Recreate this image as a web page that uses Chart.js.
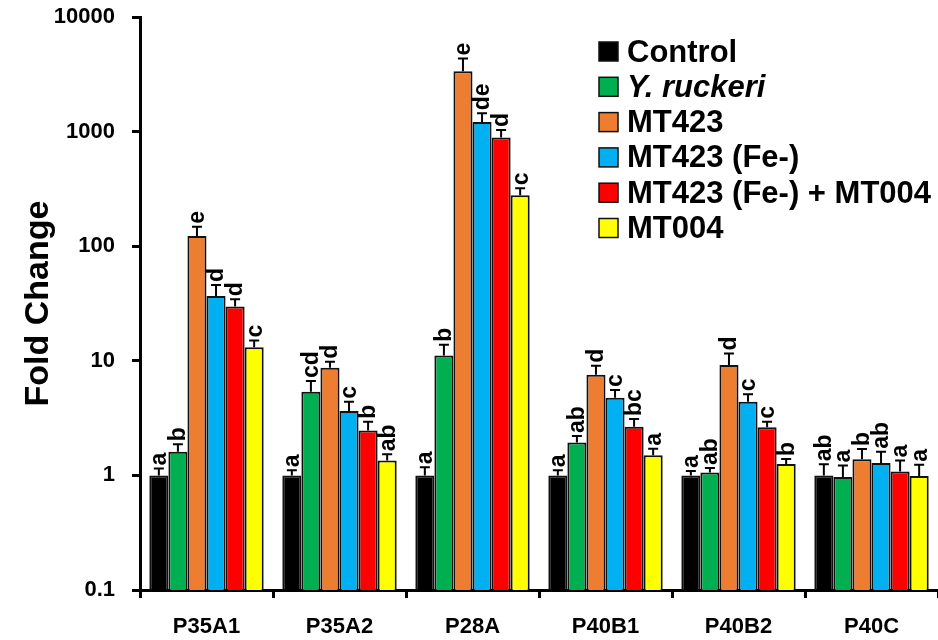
<!DOCTYPE html>
<html>
<head>
<meta charset="utf-8">
<script src="https://cdn.jsdelivr.net/npm/chart.js"></script>
<style>
  html, body { margin: 0; padding: 0; background: #fff; }
  #wrap { width: 938px; height: 640px; }
</style>
</head>
<body>
<div id="wrap"><canvas id="foldChart" width="938" height="640"></canvas></div>
<script>
// genes on the x axis
const genes = ['P35A1', 'P35A2', 'P28A', 'P40B1', 'P40B2', 'P40C'];
const yTicks = [0.1, 1, 10, 100, 1000, 10000];

// fold change per treatment
const control   = [1, 1, 1, 1, 1, 1];
const yRuckeri  = [1.61, 5.37, 11.1, 1.94, 1.06, 0.97];
const mt423     = [123, 8.7, 3370, 7.56, 9.19, 1.38];
const mt423Fe   = [36.8, 3.65, 1210, 4.76, 4.40, 1.28];
const mt423FeMt = [29.7, 2.47, 887, 2.66, 2.63, 1.08];
const mt004     = [13.1, 1.35, 279, 1.50, 1.26, 0.99];

// upper error (SD)
const controlErr   = [0.15, 0.11, 0.18, 0.11, 0.09, 0.25];
const yRuckeriErr  = [0.26, 1.3, 2.7, 0.27, 0.10, 0.25];
const mt423Err     = [25, 1.1, 980, 1.5, 2.4, 0.32];
const mt423FeErr   = [9, 0.75, 234, 0.8, 0.7, 0.33];
const mt423FeMtErr = [4.7, 0.47, 148, 0.45, 0.31, 0.27];
const mt004Err     = [1.9, 0.18, 41, 0.21, 0.13, 0.25];

// significance letters
const controlSig   = ['a', 'a', 'a', 'a', 'a', 'ab'];
const yRuckeriSig  = ['b', 'cd', 'b', 'ab', 'ab', 'a'];
const mt423Sig     = ['e', 'd', 'e', 'd', 'd', 'b'];
const mt423FeSig   = ['d', 'c', 'de', 'c', 'c', 'ab'];
const mt423FeMtSig = ['d', 'b', 'd', 'bc', 'c', 'a'];
const mt004Sig     = ['c', 'ab', 'c', 'a', 'b', 'a'];

const FONT = '"Liberation Sans", Arial, sans-serif';

function makeSet(label, data, err, sig, color, italic) {
    return {
        label: label,
        data: data,
        err: err,
        sig: sig,
        italic: italic || false,
        backgroundColor: color,
        borderColor: '#111',
        borderWidth: 2,
        categoryPercentage: 0.86,
        barPercentage: 1.0
    };
}

// error bars (upper half) plus letters above them
const errorBars = {
    id: 'errorBars',
    afterDatasetsDraw(chart) {
        const ctx = chart.ctx;
        const y = chart.scales.y;
        ctx.save();
        chart.data.datasets.forEach((ds, i) => {
            const meta = chart.getDatasetMeta(i);
            meta.data.forEach((bar, j) => {
                const top = y.getPixelForValue(ds.data[j]);
                const cap = y.getPixelForValue(ds.data[j] + ds.err[j]);
                ctx.strokeStyle = '#000';
                ctx.lineWidth = 2;
                ctx.beginPath();
                ctx.moveTo(bar.x, top);
                ctx.lineTo(bar.x, cap);
                ctx.moveTo(bar.x - 5, cap);
                ctx.lineTo(bar.x + 5, cap);
                ctx.stroke();

                ctx.save();
                ctx.translate(bar.x, cap - 3);
                ctx.rotate(-Math.PI / 2);
                ctx.fillStyle = '#000';
                ctx.font = 'bold 23px ' + FONT;
                ctx.textAlign = 'left';
                ctx.textBaseline = 'middle';
                ctx.fillText(ds.sig[j], 0, 1);
                ctx.restore();
            });
        });
        ctx.restore();
    }
};

// legend drawn inside the plot, so one entry can be italic
const boxLegend = {
    id: 'boxLegend',
    afterDraw(chart) {
        const ctx = chart.ctx;
        ctx.save();
        chart.data.datasets.forEach((ds, i) => {
            const cy = 52 + i * 35.3;
            ctx.fillStyle = ds.backgroundColor;
            ctx.fillRect(599, cy - 10, 19, 19);
            ctx.strokeStyle = '#111';
            ctx.lineWidth = 1.5;
            ctx.strokeRect(599, cy - 10, 19, 19);
            ctx.fillStyle = '#000';
            ctx.font = (ds.italic ? 'italic ' : '') + 'bold 31px ' + FONT;
            ctx.textAlign = 'left';
            ctx.textBaseline = 'middle';
            ctx.fillText(ds.label, 627, cy + 1);
        });
        ctx.restore();
    }
};

new Chart('foldChart', {
    type: 'bar',
    data: {
        labels: genes,
        datasets: [
            makeSet('Control', control, controlErr, controlSig, '#000000'),
            makeSet('Y. ruckeri', yRuckeri, yRuckeriErr, yRuckeriSig, '#00B050', true),
            makeSet('MT423', mt423, mt423Err, mt423Sig, '#ED7D31'),
            makeSet('MT423 (Fe-)', mt423Fe, mt423FeErr, mt423FeSig, '#00B0F0'),
            makeSet('MT423 (Fe-) + MT004', mt423FeMt, mt423FeMtErr, mt423FeMtSig, '#FF0000'),
            makeSet('MT004', mt004, mt004Err, mt004Sig, '#FFFF00')
        ]
    },
    options: {
        responsive: false,
        animation: false,
        layout: { padding: { top: 17, right: 0, left: 0, bottom: 0 } },
        plugins: {
            legend: { display: false },
            tooltip: { enabled: false }
        },
        scales: {
            x: {
                grid: { display: true, drawOnChartArea: false, color: '#000', lineWidth: 3, tickLength: 8 },
                border: { display: true, color: '#000', width: 3 },
                ticks: { color: '#000', padding: 16, font: { family: FONT, size: 22, weight: 'bold' } },
                afterFit(s) { s.height = 50; s.paddingLeft = 0; s.paddingRight = 0; }
            },
            y: {
                type: 'logarithmic',
                min: 0.1,
                max: 10000,
                afterBuildTicks(s) { s.ticks = yTicks.map(v => ({ value: v })); },
                grid: { display: true, drawOnChartArea: false, color: '#000', lineWidth: 3, tickLength: 8 },
                border: { display: true, color: '#000', width: 3 },
                ticks: {
                    color: '#000',
                    padding: 17,
                    font: { family: FONT, size: 22, weight: 'bold' },
                    callback: v => String(v)
                },
                title: {
                    display: true,
                    text: 'Fold Change',
                    color: '#000',
                    padding: { top: 18, bottom: 0 },
                    font: { family: FONT, size: 34, weight: 'bold' }
                },
                afterFit(s) { s.width = 140; s.paddingTop = 0; s.paddingBottom = 0; }
            }
        }
    },
    plugins: [errorBars, boxLegend]
});
</script>
</body>
</html>
